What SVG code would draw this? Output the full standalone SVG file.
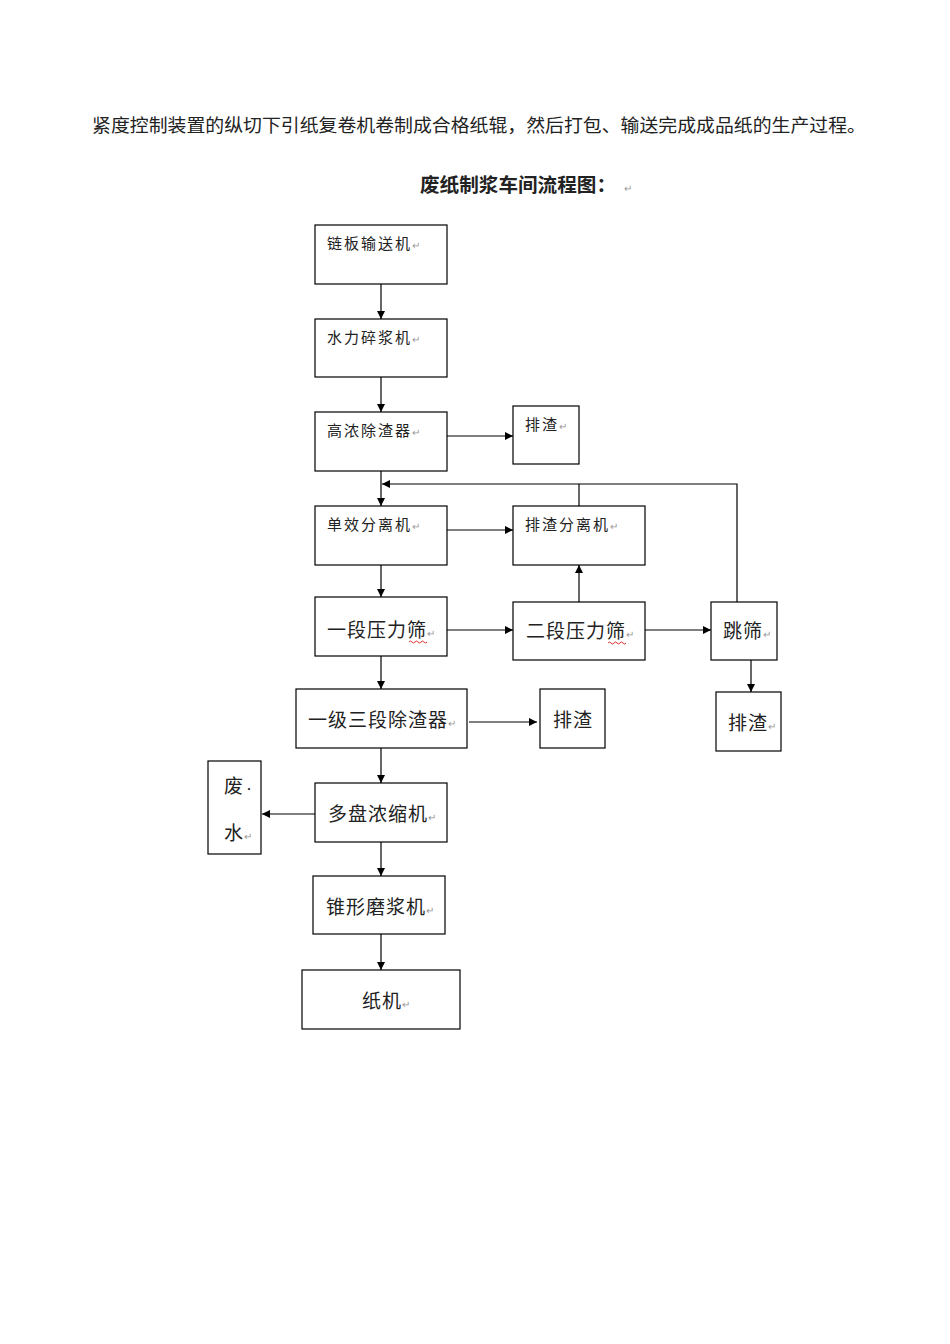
<svg xmlns="http://www.w3.org/2000/svg" width="950" height="1344" viewBox="0 0 950 1344">
<style>
text{font-family:"Noto Sans CJK SC","Liberation Sans",sans-serif;fill:#222;}
.b{fill:#fff;stroke:#000;stroke-width:1.2;}
.c{fill:none;stroke:#000;stroke-width:1.2;}
.s{font-size:15px;letter-spacing:2px;}
.m{font-size:19px;letter-spacing:1px;}
.p{font-size:10px;fill:#999;letter-spacing:0;}
.w{fill:none;stroke:#e03030;stroke-width:1;}
</style>
<defs>
<marker id="a" viewBox="0 0 10 10" refX="10" refY="5" markerWidth="8" markerHeight="8" markerUnits="userSpaceOnUse" orient="auto"><path d="M0,0L10,5L0,10z" fill="#000"/></marker>
</defs>
<text x="92" y="132" font-size="18.5" textLength="774" lengthAdjust="spacingAndGlyphs">紧度控制装置的纵切下引纸复卷机卷制成合格纸辊，然后打包、输送完成成品纸的生产过程。</text>
<text x="420" y="192" font-size="19.5" font-weight="bold" textLength="196" lengthAdjust="spacingAndGlyphs">废纸制浆车间流程图：</text>
<text class="p" x="624" y="192">↵</text>
<g id="connectors">
<line class="c" x1="381" y1="284" x2="381" y2="319" marker-end="url(#a)"/>
<line class="c" x1="381" y1="377" x2="381" y2="412" marker-end="url(#a)"/>
<line class="c" x1="447" y1="436" x2="513" y2="436" marker-end="url(#a)"/>
<line class="c" x1="381" y1="471" x2="381" y2="506" marker-end="url(#a)"/>
<polyline class="c" points="737,602 737,484 382,484" marker-end="url(#a)"/>
<line class="c" x1="579" y1="506" x2="579" y2="484"/>
<line class="c" x1="447" y1="530" x2="513" y2="530" marker-end="url(#a)"/>
<line class="c" x1="381" y1="565" x2="381" y2="597" marker-end="url(#a)"/>
<line class="c" x1="579" y1="602" x2="579" y2="565" marker-end="url(#a)"/>
<line class="c" x1="447" y1="630" x2="513" y2="630" marker-end="url(#a)"/>
<line class="c" x1="645" y1="630" x2="711" y2="630" marker-end="url(#a)"/>
<line class="c" x1="751" y1="660" x2="751" y2="692" marker-end="url(#a)"/>
<line class="c" x1="381" y1="656" x2="381" y2="689" marker-end="url(#a)"/>
<line class="c" x1="469" y1="722" x2="537" y2="722" marker-end="url(#a)"/>
<line class="c" x1="381" y1="748" x2="381" y2="783" marker-end="url(#a)"/>
<line class="c" x1="315" y1="814" x2="262" y2="814" marker-end="url(#a)"/>
<line class="c" x1="381" y1="842" x2="381" y2="876" marker-end="url(#a)"/>
<line class="c" x1="381" y1="934" x2="381" y2="970" marker-end="url(#a)"/>
</g>
<g id="n1"><rect class="b" x="315" y="225" width="132" height="59"/><text class="s" x="327" y="249">链板输送机<tspan class="p">↵</tspan></text></g>
<g id="n2"><rect class="b" x="315" y="319" width="132" height="58"/><text class="s" x="327" y="343">水力碎浆机<tspan class="p">↵</tspan></text></g>
<g id="n3"><rect class="b" x="315" y="412" width="132" height="59"/><text class="s" x="327" y="436">高浓除渣器<tspan class="p">↵</tspan></text></g>
<g id="n4"><rect class="b" x="513" y="406" width="66" height="58"/><text class="s" x="525" y="430">排渣<tspan class="p">↵</tspan></text></g>
<g id="n5"><rect class="b" x="315" y="506" width="132" height="59"/><text class="s" x="327" y="530">单效分离机<tspan class="p">↵</tspan></text></g>
<g id="n6"><rect class="b" x="513" y="506" width="132" height="59"/><text class="s" x="525" y="530">排渣分离机<tspan class="p">↵</tspan></text></g>
<g id="n7"><rect class="b" x="315" y="597" width="132" height="59"/><text class="m" x="327" y="637">一段压力筛<tspan class="p">↵</tspan></text><path class="w" d="M409,642 q1.5,-2 3,0 t3,0 t3,0 t3,0 t3,0 t3,0"/></g>
<g id="n8"><rect class="b" x="513" y="602" width="132" height="58"/><text class="m" x="526" y="638">二段压力筛<tspan class="p">↵</tspan></text><path class="w" d="M608,643 q1.5,-2 3,0 t3,0 t3,0 t3,0 t3,0 t3,0"/></g>
<g id="n9"><rect class="b" x="711" y="602" width="66" height="58"/><text class="m" x="723" y="638">跳筛<tspan class="p">↵</tspan></text></g>
<g id="n10"><rect class="b" x="296" y="689" width="171" height="59"/><text class="m" x="308" y="727" letter-spacing="0.5">一级三段除渣器<tspan class="p">↵</tspan></text></g>
<g id="n11"><rect class="b" x="540" y="689" width="65" height="59"/><text class="m" x="553" y="727">排渣</text></g>
<g id="n12"><rect class="b" x="716" y="692" width="65" height="59"/><text class="m" x="728" y="730" letter-spacing="0">排渣<tspan class="p">↵</tspan></text></g>
<g id="n13"><rect class="b" x="208" y="761" width="53" height="93"/><text class="m" x="224" y="793">废<tspan font-size="10">·</tspan></text><text class="m" x="224" y="840">水<tspan class="p">↵</tspan></text></g>
<g id="n14"><rect class="b" x="315" y="783" width="132" height="59"/><text class="m" x="328" y="821">多盘浓缩机<tspan class="p">↵</tspan></text></g>
<g id="n15"><rect class="b" x="313" y="876" width="132" height="58"/><text class="m" x="326" y="914">锥形磨浆机<tspan class="p">↵</tspan></text></g>
<g id="n16"><rect class="b" x="302" y="970" width="158" height="59"/><text class="m" x="362" y="1008">纸机<tspan class="p">↵</tspan></text></g>
</svg>
